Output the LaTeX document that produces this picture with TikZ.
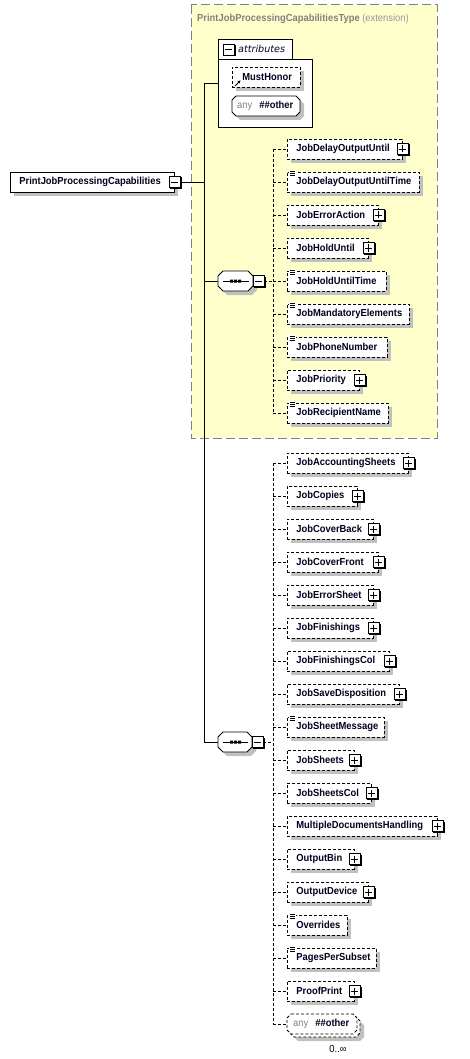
\documentclass[tikz,border=0pt]{standalone}
\usepackage{fontspec}
\setmainfont[FakeStretch=0.92]{Liberation Sans}
\newfontfamily\attrfont{DejaVu Sans}
\usetikzlibrary{calc,shadows,arrows.meta}
\definecolor{yel}{RGB}{255,255,204}
\definecolor{ybord}{RGB}{128,128,128}
\definecolor{shad}{RGB}{192,192,192}
\definecolor{txt}{RGB}{0,0,32}
\definecolor{gtxt}{RGB}{128,128,128}
\definecolor{lgtxt}{RGB}{150,150,150}
\newcommand\fsz{\fontsize{10.2}{12}\selectfont}
\newcommand\octo[5]{({#1+#5},#2) -- ({#3-#5},#2) -- (#3,{#2+#5}) -- (#3,{#4-#5}) -- ({#3-#5},#4) -- ({#1+#5},#4) -- (#1,{#4-#5}) -- (#1,{#2+#5}) -- cycle}
\tikzset{
 base/.style={inner sep=0pt, minimum height=20pt, anchor=west, font=\fsz\bfseries, text=txt, align=left},
 elem/.style={base, draw, fill=white, line width=0.8pt, drop shadow={shadow xshift=4pt, shadow yshift=-4pt, fill=shad, opacity=1}},
 opt/.style={dash pattern=on 3pt off 2pt},
 conn/.style={line width=0.8pt},
 dconn/.style={conn, dash pattern=on 3pt off 2pt},
 pics/plusic/.style={code={
   \fill[black] (-4.5,-4.5) rectangle (7,7);
   \draw[fill=white, line width=0.8pt] (-5.5,-5.5) rectangle (5.5,5.5);
   \draw[line width=0.9pt] (-3.5,0) -- (3.5,0) (0,-3.5) -- (0,3.5);}},
 pics/minusic/.style={code={
   \fill[black] (-4.5,-4.5) rectangle (7,7);
   \draw[fill=white, line width=0.8pt] (-5.5,-5.5) rectangle (5.5,5.5);
   \draw[line width=0.9pt] (-3.5,0) -- (3.5,0);}},
 pics/simpic/.style={code={
   \fill[white] (2,-1.2) rectangle (9,5);
   \draw[line width=0.7pt] (3,0) -- (8,0) (3,2) -- (8,2) (3,4) -- (8,4);}},
}
\newcommand\kidp[4]{%
 \node[elem,opt,text width=#3pt] (#1) at (287,#2) {\hspace*{9pt}#4};
 \pic at (#1.east) {plusic};
 \draw[dconn] (#1.west -| jx) -- (#1.west);}
\newcommand\kids[4]{%
 \node[elem,opt,text width=#3pt] (#1) at (287,#2) {\hspace*{9pt}#4};
 \pic at (#1.north west) {simpic};
 \draw[dconn] (#1.west -| jx) -- (#1.west);}
\begin{document}
\begin{tikzpicture}[x=1pt,y=-1pt]
\useasboundingbox (0,0) rectangle (469,1059);
% extension area
\draw[ybord, fill=yel, line width=1pt, dash pattern=on 9pt off 4pt] (191,5) rectangle (437,438);
\node[anchor=west, inner sep=0pt, font=\fsz, text=gtxt] (ttl) at (197,19) {\textbf{PrintJobProcessingCapabilitiesType} {\color{lgtxt}(extension)}};
% attributes box
\draw[conn, fill=white] (218,59) -- (218,39) -- (292,39) -- (292,59) -- cycle;
\node[draw, conn, fill=white, inner sep=0pt, minimum width=94pt, minimum height=68pt, anchor=north west] (attr) at (218,59) {};
\pic at (228.5,49.5) {minusic};
\node[anchor=west, inner sep=0pt, font=\attrfont\fontsize{9.6}{11}\selectfont\itshape, text=txt] (attrlbl) at (238,49) {attributes};
\node[elem, opt, text width=68pt] (mh) at (232,77.5) {\hspace*{10pt}MustHonor};
\draw[line width=0.8pt, -{Stealth[length=3pt,width=3pt]}] (235,86) -- (240.5,80.5);
\fill[shad] \octo{236}{100}{304}{120}{4};
\draw[conn, fill=white] \octo{232}{96}{300}{116}{4};
\node[base, text width=68pt] (aany) at (232,106) {\hspace*{5pt}{\mdseries\color{gtxt}any}\hspace{7pt}\#\#other};
% root element
\node[elem, text width=164pt] (root) at (10,182) {\hspace*{9pt}PrintJobProcessingCapabilities};
\pic at (root.east) {minusic};
% trunk
\coordinate (trunk) at (204,83);
\coordinate (jx) at (273,0);
% sequence 1
\fill[shad] \octo{222}{275}{257}{295}{5};
\draw[conn, fill=white] \octo{218}{271}{253}{291}{5};
\node[inner sep=0pt, minimum width=35pt, minimum height=20pt] (s1) at (235.5,281) {};
\draw[conn] (222.5,281) -- (248.5,281);
\fill (230,279.5) rectangle (233,282.5) (234,279.5) rectangle (237,282.5) (238,279.5) rectangle (241,282.5);
\pic at ([xshift=5.5pt]s1.east) {minusic};
% sequence 2
\fill[shad] \octo{222}{736}{256}{756}{5};
\draw[conn, fill=white] \octo{218}{732}{252}{752}{5};
\node[inner sep=0pt, minimum width=34pt, minimum height=20pt] (s2) at (235,742) {};
\draw[conn] (222.5,742) -- (248,742);
\fill (230,740.5) rectangle (233,743.5) (234,740.5) rectangle (237,743.5) (238,740.5) rectangle (241,743.5);
\pic at ([xshift=5.5pt]s2.east) {minusic};
% trunk connectors
\draw[conn] ([xshift=6pt]root.east) -- (root.east -| trunk);
\draw[conn] (trunk) -- (attr.west |- trunk);
\draw[conn] (trunk) -- (trunk |- s2.west);
\draw[conn] (trunk |- s1.west) -- (s1.west);
\draw[conn] (trunk |- s2.west) -- (s2.west);
\draw[dconn] ([xshift=11pt]s1.east) -- (s1.east -| jx);
\draw[dconn] ([xshift=11pt]s2.east) -- (s2.east -| jx);
% children of sequence 1
\kidp{a1}{149}{115}{JobDelayOutputUntil}
\kids{a2}{182}{132}{JobDelayOutputUntilTime}
\kidp{a3}{215}{91}{JobErrorAction}
\kidp{a4}{248}{81}{JobHoldUntil}
\kids{a5}{281}{99}{JobHoldUntilTime}
\kids{a6}{314}{122}{JobMandatoryElements}
\kids{a7}{347}{100}{JobPhoneNumber}
\kidp{a8}{380}{72}{JobPriority}
\kids{a9}{413}{101}{JobRecipientName}
\draw[dconn] (a1.west -| jx) -- (a9.west -| jx);
% children of sequence 2
\kidp{b1}{463}{121}{JobAccountingSheets}
\kidp{b2}{496}{70}{JobCopies}
\kidp{b3}{529}{86}{JobCoverBack}
\kidp{b4}{562}{91}{JobCoverFront}
\kidp{b5}{595}{86}{JobErrorSheet}
\kidp{b6}{628}{86}{JobFinishings}
\kidp{b7}{661}{102}{JobFinishingsCol}
\kidp{b8}{694}{112}{JobSaveDisposition}
\kids{b9}{727}{97}{JobSheetMessage}
\kidp{b10}{760}{67}{JobSheets}
\kidp{b11}{793}{84}{JobSheetsCol}
\kidp{b12}{826}{150}{MultipleDocumentsHandling}
\kidp{b13}{859}{67}{OutputBin}
\kidp{b14}{892}{81}{OutputDevice}
\kids{b15}{925}{60}{Overrides}
\kids{b16}{958}{89}{PagesPerSubset}
\kidp{b17}{991}{67}{ProofPrint}
% any ##other (0..unbounded)
\fill[shad] \octo{294}{1021}{364}{1041}{4};
\draw[conn, opt, fill=white] \octo{290}{1017}{360}{1037}{4};
\draw[conn, opt, fill=white] \octo{287}{1014}{357}{1034}{4};
\node[base, text width=70pt] (b18) at (287,1024) {\hspace*{6pt}{\mdseries\color{gtxt}any}\hspace{7pt}\#\#other};
\draw[dconn] (b18.west -| jx) -- (b18.west);
\draw[dconn] (b1.west -| jx) -- (b18.west -| jx);
\node[inner sep=0pt, font=\fsz, text=txt] (occ) at (338,1049) {0..∞};
\end{tikzpicture}
\end{document}
